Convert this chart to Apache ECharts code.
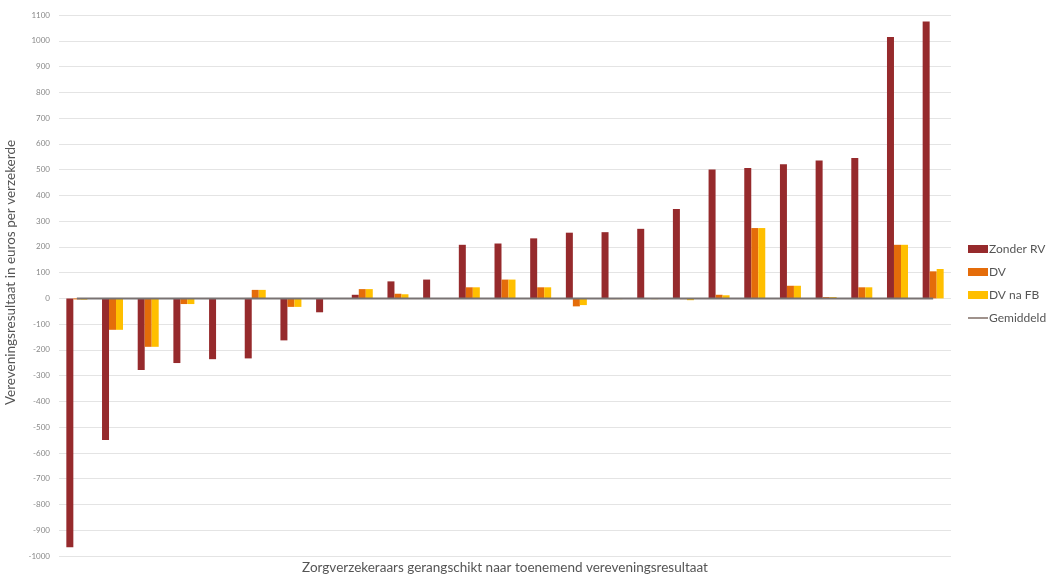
<!DOCTYPE html>
<html>
<head>
<meta charset="utf-8">
<script src="https://cdn.jsdelivr.net/npm/echarts@6/dist/echarts.min.js"></script>
<style>
html,body{margin:0;padding:0;background:#fff;}
#chart{width:1054px;height:577px;}
</style>
</head>
<body>
<div id="chart"></div>
<script>
var categories = ['1','2','3','4','5','6','7','8','9','10','11','12','13','14','15','16','17','18','19','20','21','22','23','24','25'];
var zonderRV = [-966,-550,-278,-251,-236,-233,-163,-54,14,66,73,208,213,233,255,257,270,347,500,506,521,535,545,1015,1075];
var dv       = [-4,-122,-188,-22,-2,33,-33,-1,36,18,-2,43,73,43,-31,-3,-2,-3,14,273,49,5,43,208,105];
var dvNaFB   = [-5,-122,-188,-22,-2,33,-33,-1,36,16,-2,43,73,43,-26,-3,-3,-7,12,273,49,5,43,208,114];
var gemiddeld = [0,0,0,0,0,0,0,0,0,0,0,0,0,0,0,0,0,0,0,0,0,0,0,0,0];
var yMin = -1000, yMax = 1100, yStep = 100;

var chart = echarts.init(document.getElementById('chart'));
var font = 'Lato, "Open Sans", sans-serif';
chart.setOption({
  animation: false,
  textStyle: {fontFamily: font},
  grid: {left: 59, right: 103, top: 15, bottom: 21, containLabel: false, outerBoundsMode: 'none'},
  legend: {
    orient: 'vertical',
    left: 963,
    top: 238,
    itemWidth: 20,
    itemHeight: 8,
    itemGap: 11,
    textStyle: {fontFamily: font, fontSize: 12, color: '#555', padding: [0,0,0,-4]},
    data: [
      {name: 'Zonder RV', icon: 'rect'},
      {name: 'DV', icon: 'rect'},
      {name: 'DV na FB', icon: 'rect'},
      {name: 'Gemiddeld', icon: 'path://M0,0 L20,0 L20,1.5 L0,1.5 Z'}
    ]
  },
  xAxis: {
    type: 'category',
    data: categories,
    axisLine: {show: false, onZero: false},
    axisTick: {show: false},
    axisLabel: {show: false},
    name: 'Zorgverzekeraars gerangschikt naar toenemend vereveningsresultaat',
    nameLocation: 'middle',
    nameGap: 5,
    nameTextStyle: {fontFamily: font, fontSize: 13.5, color: '#555'}
  },
  yAxis: {
    type: 'value',
    min: yMin,
    max: yMax,
    interval: yStep,
    axisLine: {show: false},
    axisTick: {show: false},
    axisLabel: {fontFamily: font, fontSize: 8, color: '#888', margin: 9,
      formatter: function (v) { return String(v); }},
    splitLine: {lineStyle: {color: '#e4e4e4', width: 1}},
    name: 'Vereveningsresultaat in euros per verzekerde',
    nameLocation: 'middle',
    nameGap: 41,
    nameRotate: 90,
    nameTextStyle: {fontFamily: font, fontSize: 13.5, color: '#555', padding: [0,0,0,26]}
  },
  series: [
    {name: 'Zonder RV', type: 'bar', data: zonderRV, barWidth: 7, barGap: '0%', itemStyle: {color: '#962a2c'}},
    {name: 'DV', type: 'bar', data: dv, barWidth: 7, barGap: '0%', itemStyle: {color: '#e46c0a'}},
    {name: 'DV na FB', type: 'bar', data: dvNaFB, barWidth: 7, barGap: '0%', itemStyle: {color: '#ffbf00'}},
    {name: 'Gemiddeld', type: 'line', data: gemiddeld, symbol: 'none', z: 5,
     lineStyle: {color: '#787272', width: 2}, itemStyle: {color: '#7f6e66'}}
  ]
});
</script>
</body>
</html>
